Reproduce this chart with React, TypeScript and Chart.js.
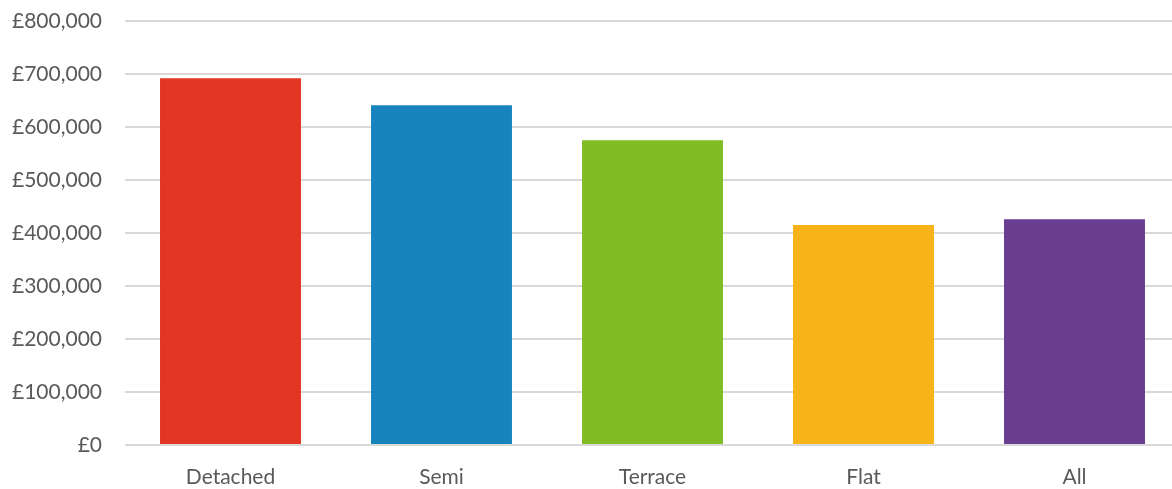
import React, { useEffect, useRef } from "react";
import { Chart, registerables } from "chart.js";

Chart.register(...registerables);

const categories: string[] = ["Detached", "Semi", "Terrace", "Flat", "All"];
const prices: number[] = [692000, 641000, 575000, 415000, 426000];
const barColors: string[] = ["#E43625", "#1784BE", "#81BC24", "#F8B319", "#693D8F"];
const yTicks: number[] = [0, 100000, 200000, 300000, 400000, 500000, 600000, 700000, 800000];

export default function App() {
  const ref = useRef<HTMLCanvasElement | null>(null);

  useEffect(() => {
    if (!ref.current) return;
    const chart = new Chart(ref.current, {
      type: "bar",
      data: {
        labels: categories,
        datasets: [
          {
            data: prices,
            backgroundColor: barColors,
            borderWidth: 0,
            categoryPercentage: 1,
            barPercentage: 0.668,
          },
        ],
      },
      options: {
        animation: false,
        responsive: true,
        maintainAspectRatio: false,
        layout: { padding: { top: 21, right: 0, left: 0, bottom: 0 } },
        plugins: { legend: { display: false }, tooltip: { enabled: false } },
        scales: {
          x: {
            grid: { display: false, drawTicks: false },
            border: { display: false },
            ticks: {
              color: "#595959",
              font: { family: "Lato", size: 21 },
              padding: 20,
              maxRotation: 0,
            },
            afterFit: (s: any) => {
              s.height = 44;
              s.paddingLeft = 0;
              s.paddingRight = 0;
            },
          },
          y: {
            min: 0,
            max: 800000,
            afterBuildTicks: (s: any) => {
              s.ticks = yTicks.map((v) => ({ value: v }));
            },
            grid: { color: "#D9D9D9", lineWidth: 2, drawTicks: false },
            border: { display: false },
            ticks: {
              color: "#595959",
              font: { family: "Lato", size: 21 },
              padding: 23,
              callback: (v: any) => "£" + Number(v).toLocaleString("en-GB"),
            },
            afterFit: (s: any) => {
              s.width = 125;
              s.paddingTop = 0;
              s.paddingBottom = 0;
            },
          },
        },
      },
    });
    return () => chart.destroy();
  }, []);

  return (
    <div style={{ position: "fixed", left: 0, top: 0, width: 1172, height: 489, overflow: "hidden", background: "#fff" }}>
      <div style={{ position: "absolute", left: 0, top: 0, width: 1180, height: 489 }}>
        <canvas ref={ref} />
      </div>
    </div>
  );
}
